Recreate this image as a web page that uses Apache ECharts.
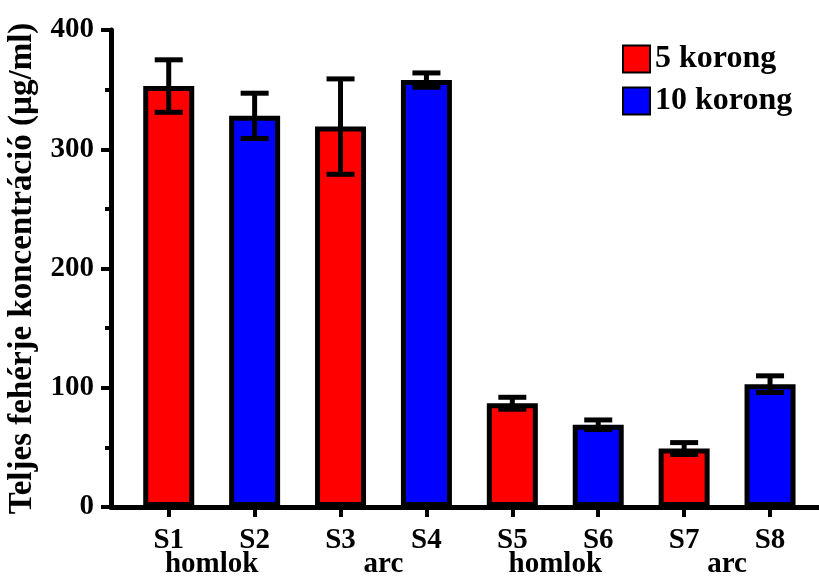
<!DOCTYPE html>
<html><head><meta charset="utf-8">
<script src="https://cdn.jsdelivr.net/npm/echarts@6/dist/echarts.min.js"></script>
<style>html,body{margin:0;padding:0;background:#fff}#c{width:819px;height:579px}</style>
</head><body><div id="c"></div>
<script>
const categories = ['S1','S2','S3','S4','S5','S6','S7','S8'];
const groupLabels = ['homlok','arc','homlok','arc'];
const means = [353, 328, 319, 358, 87, 69, 49, 103];
const errors = [22, 19, 40, 6, 5, 4, 5, 7];
const seriesNames = ['5 korong', '10 korong'];
const yTicks = [0, 100, 200, 300, 400];

const FONT = '"Liberation Serif", "Times New Roman", serif';
const positions = categories.map((c, i) => i + 1);
const red = [], blue = [];
positions.forEach((p, i) => { (i % 2 === 0 ? red : blue).push([p, means[i]]); });
const errData = positions.map((p, i) => [p, means[i] - errors[i], means[i] + errors[i]]);
const groupPos = [1.5, 3.5, 5.5, 7.5];

const chart = echarts.init(document.getElementById('c'));
chart.setOption({
  animation: false,
  backgroundColor: '#fff',
  grid: { left: 111, right: 0, top: 30, bottom: 72, containLabel: false, outerBoundsMode: 'none' },
  legend: {
    orient: 'vertical', left: 622, top: 43, padding: 0, itemWidth: 27, itemHeight: 27, itemGap: 10,
    icon: 'rect', data: seriesNames,
    textStyle: { fontFamily: FONT, fontWeight: 'bold', fontSize: 32, color: '#000' }
  },
  xAxis: [{
    type: 'value', min: 0.328, max: 8.57,
    axisLine: { show: true, lineStyle: { color: '#000', width: 5 } },
    axisTick: { show: true, length: 10, lineStyle: { color: '#000', width: 4 }, customValues: positions },
    axisLabel: { show: true, customValues: positions, margin: 19,
      formatter: v => categories[Math.round(v) - 1],
      fontFamily: FONT, fontWeight: 'bold', fontSize: 29, color: '#000' },
    splitLine: { show: false }
  }, {
    type: 'value', min: 0.328, max: 8.57, position: 'bottom',
    axisLine: { show: false }, axisTick: { show: false }, splitLine: { show: false },
    axisLabel: { show: true, customValues: groupPos, margin: 43,
      formatter: v => groupLabels[groupPos.indexOf(v)],
      fontFamily: FONT, fontWeight: 'bold', fontSize: 29, color: '#000' }
  }],
  yAxis: {
    type: 'value', min: 0, max: 400, interval: 100,
    name: 'Teljes fehérje koncentráció (µg/ml)', nameLocation: 'middle', nameGap: 72, nameRotate: 90,
    nameTextStyle: { fontFamily: FONT, fontWeight: 'bold', fontSize: 33, color: '#000' },
    axisLine: { show: true, lineStyle: { color: '#000', width: 5 } },
    axisTick: { show: true, length: 10, lineStyle: { color: '#000', width: 4 } },
    minorTick: { show: true, splitNumber: 2, length: 6, lineStyle: { color: '#000', width: 4 } },
    axisLabel: { margin: 17, fontFamily: FONT, fontWeight: 'bold', fontSize: 29, color: '#000',
      formatter: v => yTicks.includes(v) ? String(v) : '' },
    splitLine: { show: false }
  },
  series: [{
    name: seriesNames[0], type: 'bar', data: red, barWidth: 51, stack: 'all',
    itemStyle: { color: '#ff0000', borderColor: '#000', borderWidth: 5 }
  }, {
    name: seriesNames[1], type: 'bar', data: blue, barWidth: 51, stack: 'all',
    itemStyle: { color: '#0000ff', borderColor: '#000', borderWidth: 5 }
  }, {
    type: 'custom', data: errData, z: 10,
    renderItem: (params, api) => {
      const x = api.value(0);
      const lo = api.coord([x, api.value(1)]);
      const hi = api.coord([x, api.value(2)]);
      const hw = 14;
      const st = { stroke: '#000', lineWidth: 5 };
      return { type: 'group', children: [
        { type: 'line', shape: { x1: lo[0], y1: lo[1], x2: hi[0], y2: hi[1] }, style: st },
        { type: 'line', shape: { x1: hi[0] - hw, y1: hi[1], x2: hi[0] + hw, y2: hi[1] }, style: st },
        { type: 'line', shape: { x1: lo[0] - hw, y1: lo[1], x2: lo[0] + hw, y2: lo[1] }, style: st }
      ]};
    }
  }]
});
</script></body></html>
